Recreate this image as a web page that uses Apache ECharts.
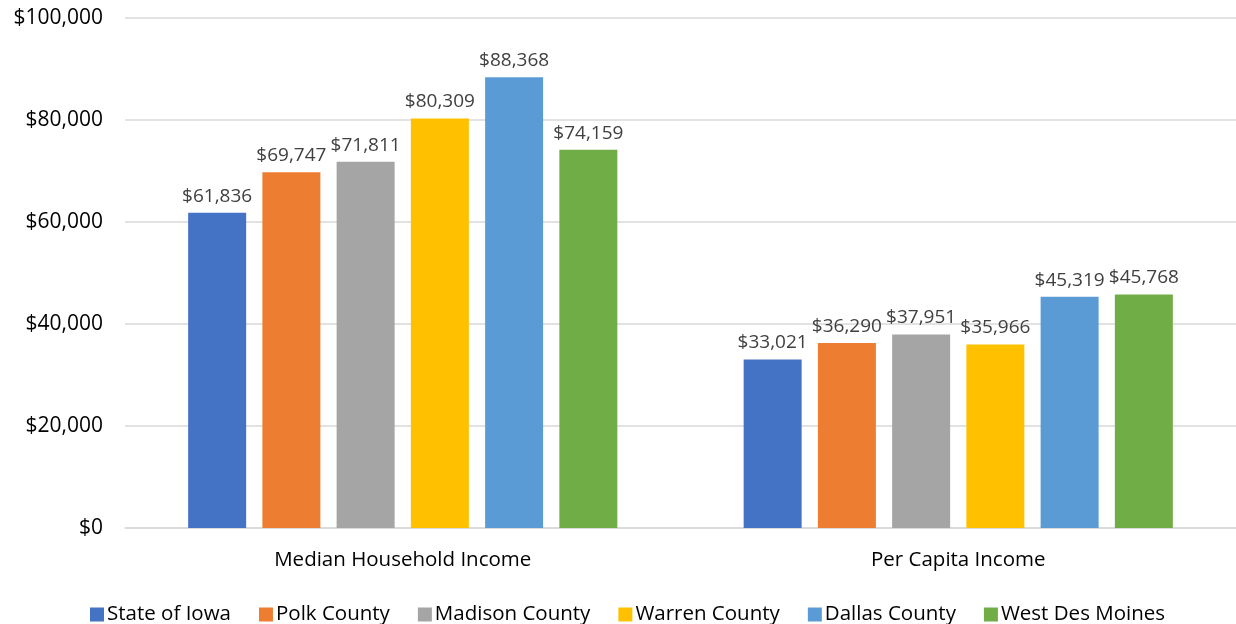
<!DOCTYPE html>
<html lang="en">
<head>
<meta charset="UTF-8">
<title>Income comparison</title>
<style>
  html, body { margin: 0; padding: 0; background: #fff; }
  #chart { width: 1236px; height: 624px; }
</style>
</head>
<body>
<div id="chart"></div>
<script src="https://cdn.jsdelivr.net/npm/echarts@6/dist/echarts.min.js"></script>
<script>
// categories on the x axis
var categories = ['Median Household Income', 'Per Capita Income'];
// one series per place
var places = ['State of Iowa', 'Polk County', 'Madison County', 'Warren County', 'Dallas County', 'West Des Moines'];
var colors = ['#4472C4', '#ED7D31', '#A5A5A5', '#FFC000', '#5B9BD5', '#70AD47'];
var stateOfIowa = [61836, 33021];
var polkCounty = [69747, 36290];
var madisonCounty = [71811, 37951];
var warrenCounty = [80309, 35966];
var dallasCounty = [88368, 45319];
var westDesMoines = [74159, 45768];
var values = [stateOfIowa, polkCounty, madisonCounty, warrenCounty, dallasCounty, westDesMoines];

var font = 'Open Sans';
function money(v) {
  return '$' + v.toString().replace(/\B(?=(\d{3})+(?!\d))/g, ',');
}

var chart = echarts.init(document.getElementById('chart'));
var series = places.map(function (name, i) {
  return {
    name: name,
    type: 'bar',
    data: values[i],
    barWidth: 58,
    barGap: '28%',
    itemStyle: { color: colors[i] },
    label: {
      show: true,
      position: 'top',
      distance: 7,
      color: '#404040',
      fontFamily: font,
      fontSize: 19,
      formatter: function (p) { return money(p.value); }
    }
  };
});

chart.setOption({
  animation: false,
  textStyle: { fontFamily: font },
  grid: { left: 125, right: 0, top: 18, bottom: 96 },
  legend: {
    top: 599,
    left: 85,
    itemWidth: 14,
    itemHeight: 14,
    itemGap: 28,
    icon: 'rect',
    textStyle: { fontFamily: font, fontSize: 20.5, color: '#000', padding: [0, 0, 0, -2] },
    data: places
  },
  xAxis: {
    type: 'category',
    data: categories,
    axisLine: { lineStyle: { color: '#D9D9D9', width: 1.5 } },
    axisTick: { show: false },
    axisLabel: { color: '#000', fontFamily: font, fontSize: 20.5, margin: 22 }
  },
  yAxis: {
    type: 'value',
    min: 0,
    max: 100000,
    interval: 20000,
    axisLine: { show: false },
    axisTick: { show: false },
    splitLine: { lineStyle: { color: '#D9D9D9', width: 1.5 } },
    axisLabel: {
      color: '#000',
      fontFamily: font,
      fontSize: 21,
      margin: 22,
      formatter: function (v) { return money(v); }
    }
  },
  series: series
});
</script>
</body>
</html>
